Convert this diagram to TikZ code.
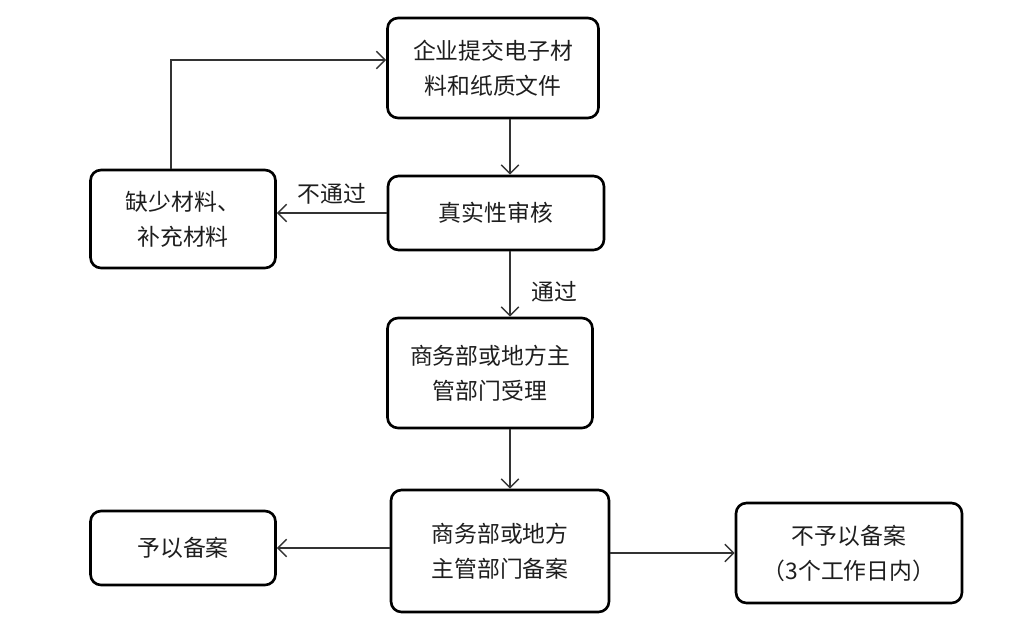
\documentclass[tikz,border=0pt]{standalone}
\usepackage{fontspec}
\usepackage{xcolor}
\usepackage{tikz}
\usetikzlibrary{arrows.meta, positioning}
\newfontfamily\cjk{Noto Sans CJK SC}
\definecolor{cink}{RGB}{30,30,30}
\tikzset{
  box/.style={rectangle, rounded corners=6pt, draw=black, line width=1.5pt,
              font=\cjk\fontsize{13}{20}\selectfont, text=cink, align=center,
              inner sep=2pt},
  arr/.style={-{Straight Barb[length=5pt,width=10pt]}, line width=0.8pt, color=black!80},
  lbl/.style={font=\cjk\fontsize{13}{16}\selectfont, text=cink},
}

\begin{document}
\begin{tikzpicture}
  \useasboundingbox (0,0) rectangle (20.26,-12.38);

  % ── Nodes ──────────────────────────────────────────────────────────────────
  \node[box, minimum width=4.22cm, minimum height=2.0cm]  at (9.86,-1.36)  (submit)  {企业提交电子材\\料和纸质文件};
  \node[box, minimum width=4.32cm, minimum height=1.48cm] at (9.92,-4.26)  (review)  {真实性审核};
  \node[box, minimum width=3.7cm,  minimum height=1.96cm] at (3.66,-4.38)  (missing) {缺少材料、\\补充材料};
  \node[box, minimum width=4.1cm,  minimum height=2.2cm]  at (9.8,-7.46)   (accept)  {商务部或地方主\\管部门受理};
  \node[box, minimum width=4.36cm, minimum height=2.44cm] at (10.0,-11.02) (filing)  {商务部或地方\\主管部门备案};
  \node[box, minimum width=3.7cm,  minimum height=1.48cm] at (3.66,-10.96) (approve) {予以备案};
  \node[box, minimum width=4.52cm, minimum height=2.0cm]  at (16.98,-11.06)(reject)  {不予以备案\\（3个工作日内）};

  \coordinate (spine) at (10.2,0);
  \coordinate (loop)  at (3.42,-1.2);

  % ── Arrows ─────────────────────────────────────────────────────────────────
  \draw[arr] (submit.south -| spine) -- (review.north -| spine);
  \draw[arr] (review.west) -- node[lbl, above=1pt] {不通过} (missing.east |- review.west);
  \draw[arr] (missing.north -| loop) |- (submit.west |- loop);
  \draw[arr] (review.south -| spine) -- node[lbl, right=0.3cm, yshift=-0.15cm] {通过} (accept.north -| spine);
  \draw[arr] (accept.south -| spine) -- (filing.north -| spine);
  \draw[arr] (filing.west |- approve.east) -- (approve.east);
  \draw[arr] (filing.east |- reject.west) -- (reject.west);
\end{tikzpicture}
\end{document}
